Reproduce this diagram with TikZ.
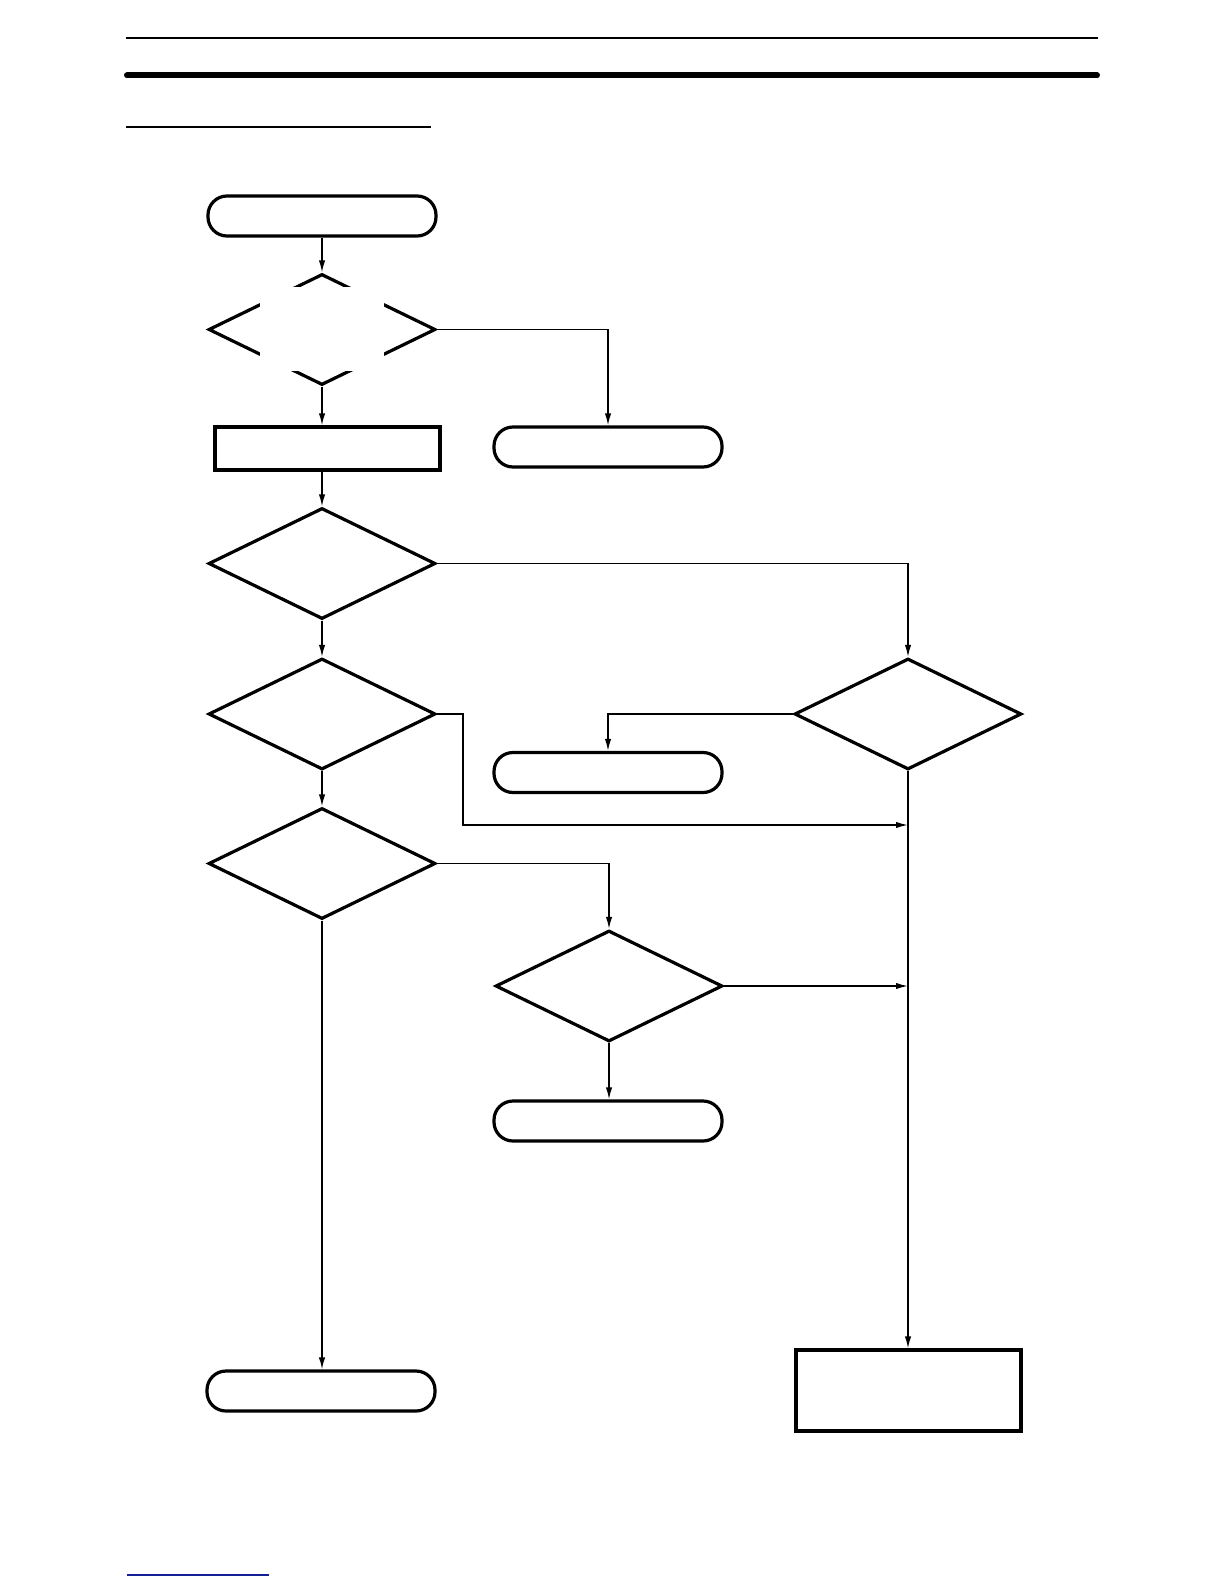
\documentclass[tikz,border=0pt]{standalone}
\usetikzlibrary{shapes.geometric,arrows.meta}
\definecolor{linkblue}{RGB}{20,30,150}
\begin{document}
\begin{tikzpicture}[x=0.5pt,y=-0.5pt,
  term/.style={draw,line width=1.6pt,rounded corners=9.5pt,minimum width=114pt,minimum height=20pt,inner sep=0pt},
  proc/.style={draw,line width=1.6pt,minimum width=112.5pt,minimum height=21.5pt,inner sep=0pt},
  bigbox/.style={draw,line width=1.6pt,minimum width=112.5pt,minimum height=40.5pt,inner sep=0pt},
  dec/.style={draw,diamond,line width=1.6pt,minimum width=113.5pt,minimum height=55.5pt,inner sep=0pt},
  conn/.style={line width=0.75pt,-{Latex[length=6pt,width=3.2pt]}},
  plainline/.style={line width=0.75pt}]
\useasboundingbox (0,0) rectangle (1224,1584);
% header rules
\draw[line width=1pt] (126,38.4) -- (1098,38.4);
\draw[line width=3pt,line cap=round] (127,75.5) -- (1097,75.5);
\draw[line width=0.75pt] (126,127) -- (431,127);
\draw[linkblue,line width=1pt] (127,1575) -- (269,1575);
% nodes
\node[term] (t1) at (322,216) {};
\node[dec] (d1) at (322,329.5) {};
\fill[white] (260,287) rectangle (384,371);
\node[proc] (p1) at (327.5,448.5) {};
\node[term] (t2) at (608,447) {};
\node[dec] (d2) at (322,563.5) {};
\node[dec] (d3) at (322,714) {};
\node[dec] (d4) at (908,714) {};
\node[term] (t3) at (608,772.5) {};
\node[dec] (d5) at (322,863.5) {};
\node[dec] (d6) at (609,986) {};
\node[term] (t4) at (608,1121) {};
\node[term] (t5) at (321,1391) {};
\node[bigbox] (fb) at (908.5,1390.5) {};
\coordinate (m1) at (908,825);
\coordinate (m2) at (908,986);
% connectors
\draw[conn] (t1.south -| d1.north) -- (d1.north);
\draw[conn] (d1.south) -- (d1.south |- p1.north);
\draw[conn] (d1.east) -| (t2.north);
\draw[conn] (p1.south -| d2.north) -- (d2.north);
\draw[conn] (d2.east) -| (d4.north);
\draw[conn] (d2.south) -- (d3.north);
\draw[conn] (d3.east) -- ++(26,0) |- (m1);
\draw[conn] (d4.west) -| (t3.north);
\draw[conn] (d4.south) -- (d4.south |- fb.north);
\draw[conn] (d3.south) -- (d5.north);
\draw[conn] (d5.east) -| (d6.north);
\draw[conn] (d6.east) -- (m2);
\draw[conn] (d6.south) -- (d6.south |- t4.north);
\draw[conn] (d5.south) -- (d5.south |- t5.north);
\end{tikzpicture}
\end{document}
